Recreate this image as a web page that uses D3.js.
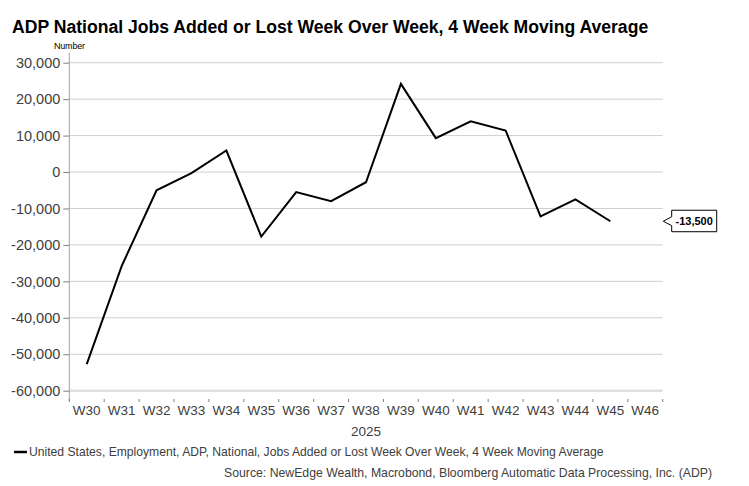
<!DOCTYPE html>
<html>
<head>
<meta charset="utf-8">
<script src="https://cdn.jsdelivr.net/npm/d3@7"></script>
<style>
  body { margin: 0; background: #fff; }
  svg { font-family: "Liberation Sans", Arial, sans-serif; }
</style>
</head>
<body>
<svg id="chart" width="749" height="486"></svg>
<script>
// weeks on the x axis (W46 has no value yet)
let weeks = ["W30", "W31", "W32", "W33", "W34", "W35", "W36", "W37", "W38",
  "W39", "W40", "W41", "W42", "W43", "W44", "W45", "W46"]
// 4 week moving average
let values = [-52700, -25800, -5000, -300, 5900, -17700, -5500, -8000, -2800,
  24200, 9300, 13900, 11400, -12200, -7500, -13500, null]
let yTicks = [30000, 20000, 10000, 0, -10000, -20000, -30000, -40000, -50000, -60000]

let plotLeft = 69.3
let plotRight = 662.7
let plotTop = 62.7
let plotBottom = 390.7
let axisY = 399

const svg = d3.select("#chart")

const x = d3.scaleBand().domain(weeks).range([plotLeft, plotRight])
const y = d3.scaleLinear().domain([-60000, 30000]).range([plotBottom, plotTop])
// plain hyphen for negatives, like the original
const fmt = d3.formatLocale({ decimal: ".", thousands: ",", grouping: [3], currency: ["", ""], minus: "-" }).format(",")

//////////////////////////////////////////////////////////////////////
// TITLE
//////////////////////////////////////////////////////////////////////
svg.append("text")
  .attr("x", 12).attr("y", 33)
  .attr("font-size", 17.6).attr("font-weight", "bold")
  .attr("fill", "#000")
  .text("ADP National Jobs Added or Lost Week Over Week, 4 Week Moving Average")

svg.append("text")
  .attr("x", 54).attr("y", 49)
  .attr("font-size", 9).attr("fill", "#000")
  .attr("textLength", 31)
  .text("Number")

//////////////////////////////////////////////////////////////////////
// GRID + Y AXIS
//////////////////////////////////////////////////////////////////////
svg.append("g")
  .selectAll("line")
  .data(yTicks)
  .join("line")
  .attr("x1", plotLeft).attr("x2", plotRight)
  .attr("y1", (d) => y(d)).attr("y2", (d) => y(d))
  .attr("stroke", (d) => (d === -60000 ? "#e0e0e0" : "#cfcfcf"))
  .attr("stroke-width", (d) => (d === -60000 ? 2.5 : 1))

const yAxis = svg.append("g")
  .attr("transform", `translate(${plotLeft},0)`)
  .call(d3.axisLeft(y).tickValues(yTicks).tickFormat(fmt).tickSize(6).tickPadding(3))
yAxis.select(".domain").remove()
yAxis.append("line")
  .attr("x1", 0).attr("x2", 0)
  .attr("y1", plotTop - 10).attr("y2", axisY + 2)
  .attr("stroke", "#a0a0a0")
yAxis.selectAll(".tick line").attr("stroke", "#808080")
yAxis.selectAll(".tick text")
  .attr("font-size", 14.5).attr("fill", "#404040")
  .attr("font-family", "Liberation Sans, Arial, sans-serif")

//////////////////////////////////////////////////////////////////////
// X AXIS
//////////////////////////////////////////////////////////////////////
const xAxis = svg.append("g")
  .attr("transform", `translate(0,${axisY})`)
xAxis.selectAll("line")
  .data(d3.range(weeks.length + 1))
  .join("line")
  .attr("x1", (i) => plotLeft + i * x.bandwidth())
  .attr("x2", (i) => plotLeft + i * x.bandwidth())
  .attr("y1", 0).attr("y2", 3)
  .attr("stroke", "#808080")
xAxis.selectAll("text")
  .data(weeks)
  .join("text")
  .attr("x", (d) => x(d) + x.bandwidth() / 2)
  .attr("y", 16)
  .attr("text-anchor", "middle")
  .attr("font-size", 13.5).attr("fill", "#404040")
  .text((d) => d)
svg.append("text")
  .attr("x", (plotLeft + plotRight) / 2).attr("y", 436)
  .attr("text-anchor", "middle")
  .attr("font-size", 13.5).attr("fill", "#404040")
  .text("2025")

//////////////////////////////////////////////////////////////////////
// LINE
//////////////////////////////////////////////////////////////////////
const pts = weeks.map((w, i) => ({ w: w, v: values[i] }))
const line = d3.line()
  .defined((d) => d.v !== null)
  .x((d) => x(d.w) + x.bandwidth() / 2)
  .y((d) => y(d.v))

svg.append("path")
  .datum(pts)
  .attr("d", line)
  .attr("fill", "none")
  .attr("stroke", "#000")
  .attr("stroke-width", 2)
  .attr("stroke-linejoin", "miter")

// last value callout
const last = pts.filter((d) => d.v !== null).pop()
const ly = y(last.v)
const bx = 671.7
const tip = 663.3
svg.append("path")
  .attr("d", `M${tip},${ly} L${bx},${ly - 4.5} L${bx},${ly - 11} L${bx + 45},${ly - 11} L${bx + 45},${ly + 10.5} L${bx},${ly + 10.5} L${bx},${ly + 4.5} Z`)
  .attr("fill", "#fff")
  .attr("stroke", "#000")
  .attr("stroke-width", 1)
svg.append("text")
  .attr("x", bx + 22.5).attr("y", ly + 4)
  .attr("text-anchor", "middle")
  .attr("font-size", 11).attr("font-weight", "bold").attr("fill", "#000")
  .text(fmt(last.v))

//////////////////////////////////////////////////////////////////////
// LEGEND + SOURCE
//////////////////////////////////////////////////////////////////////
svg.append("line")
  .attr("x1", 14).attr("x2", 27)
  .attr("y1", 452).attr("y2", 452)
  .attr("stroke", "#000").attr("stroke-width", 2.5)
svg.append("text")
  .attr("x", 29).attr("y", 456)
  .attr("font-size", 12.15).attr("fill", "#404040")
  .text("United States, Employment, ADP, National, Jobs Added or Lost Week Over Week, 4 Week Moving Average")
svg.append("text")
  .attr("x", 712).attr("y", 477)
  .attr("text-anchor", "end")
  .attr("font-size", 12.25).attr("fill", "#404040")
  .text("Source: NewEdge Wealth, Macrobond, Bloomberg Automatic Data Processing, Inc. (ADP)")
</script>
</body>
</html>
